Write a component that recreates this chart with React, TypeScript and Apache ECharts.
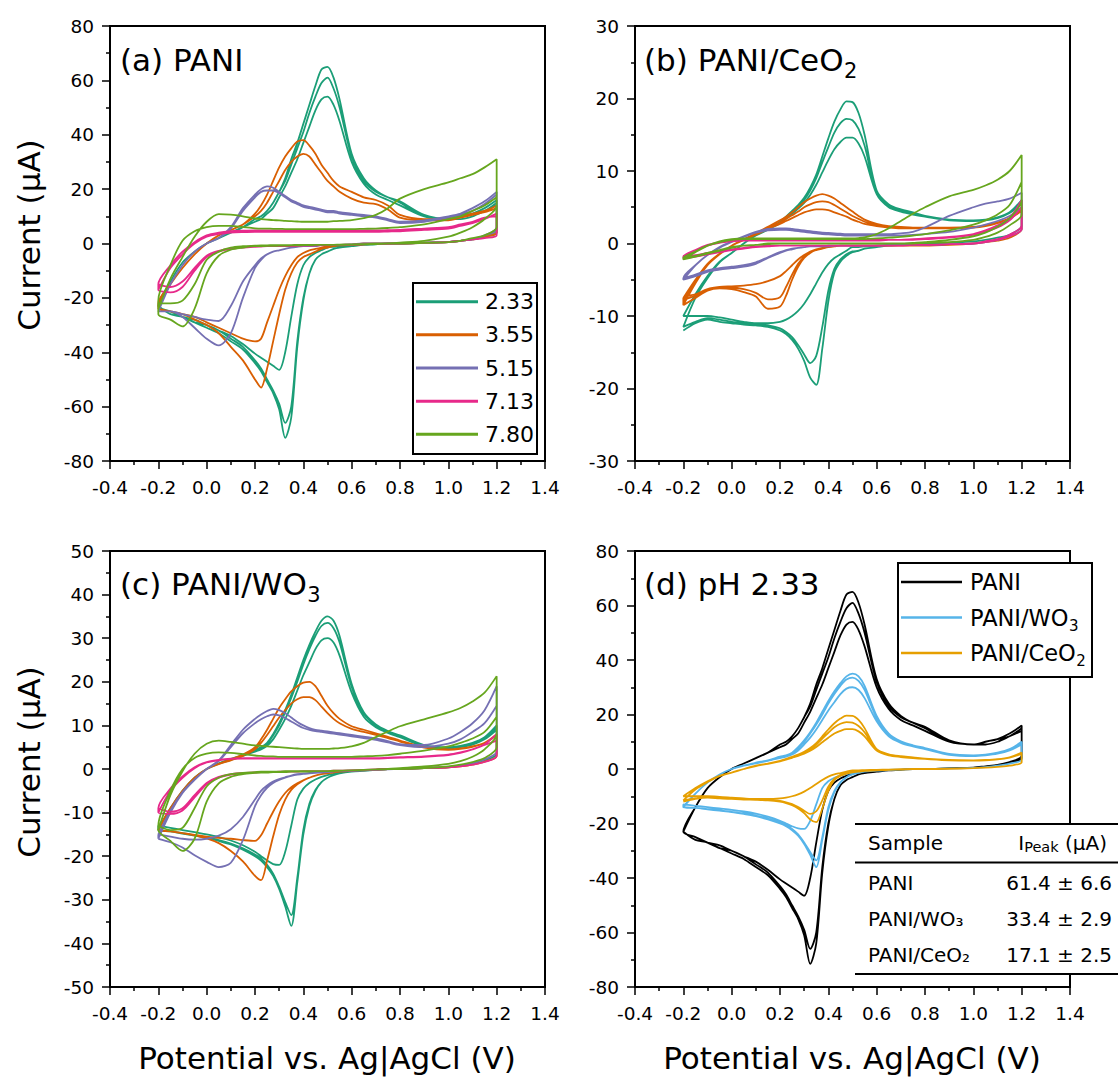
import React, { useEffect, useRef } from "react";
import * as echarts from "echarts";

const FONT = "'DejaVu Sans', Verdana, sans-serif";

// Shared potential grid (V vs Ag|AgCl) for every sweep
const POTENTIAL = [
  -0.2, -0.15, -0.1, -0.05, 0, 0.05, 0.1, 0.15, 0.2,
  0.225, 0.25, 0.275, 0.3, 0.325, 0.35, 0.375, 0.4, 0.425, 0.45, 0.475, 0.5,
  0.525, 0.55, 0.6, 0.65, 0.7, 0.75, 0.8, 0.9, 1.0, 1.05, 1.1, 1.15, 1.2,
];

const PH_LABELS = ["2.33", "3.55", "5.15", "7.13", "7.80"];
const PH_COLORS = ["#1b9e77", "#d95f02", "#7570b3", "#e7298a", "#66a61e"];
const SAMPLE_LABELS = ["PANI", "PANI/WO", "PANI/CeO"];
const SAMPLE_SUBS = ["", "3", "2"];
const SAMPLE_COLORS = ["#000000", "#56b4e9", "#e69f00"];
const TABLE_SAMPLES = ["PANI", "PANI/WO\u2083", "PANI/CeO\u2082"];
const TABLE_PEAKS = ["61.4 \u00b1 6.6", "33.4 \u00b1 2.9", "17.1 \u00b1 2.5"];

const Y_MIN = [-80, -30, -50, -80];
const Y_MAX = [80, 30, 50, 80];
const Y_STEP = [20, 10, 10, 20];

// ---------- (a) PANI : anodic (forward) and cathodic (reverse) currents, µA ----------
const PANI_233_AN = [
  [-23, -14, -7, -3, 0, 2, 4, 6, 8,
    9, 11, 13, 17, 21, 26, 31, 37, 43, 49, 53, 54,
    51, 45, 30, 22, 18, 16, 14, 10, 9, 9, 10, 12, 14],
  [-23, -14, -7, -3, 0, 2, 4, 6, 9,
    10, 12, 15, 19, 23, 29, 35, 41, 48, 54, 59, 61,
    57, 50, 32, 23, 19, 17, 15, 10, 9, 10, 11, 12, 15],
  [-23, -14, -7, -3, 0, 2, 4, 6, 9,
    10, 12, 15, 19, 24, 31, 37, 44, 51, 58, 64, 65,
    61, 53, 33, 24, 19.5, 17, 15.5, 10.5, 9, 10, 11, 13, 16],
];
const PANI_233_CA = [
  [-23, -25, -27, -28, -30, -32, -34, -37, -40.5,
    -42, -43.5, -45, -46.5, -40, -27, -15, -8, -5, -3.5, -2.5, -1.5,
    -1.2, -1, -0.7, -0.5, -0.3, 0, 0, 0.3, 0.5, 1, 1.5, 2.5, 4],
  [-23, -25, -27, -29, -30, -32, -35, -38, -43,
    -46, -50, -54, -59, -66, -60, -36, -20, -11, -6, -4, -3,
    -2, -1.5, -1, -0.5, -0.3, 0, 0, 0.3, 0.5, 1, 1.5, 2.5, 4],
  [-23, -26, -27, -29, -31, -33, -36, -39, -44,
    -47, -51, -55, -61, -71.5, -64, -38, -21, -11, -6, -4, -3,
    -2, -1.5, -1, -0.5, -0.3, 0, 0, 0.3, 0.5, 1, 1.5, 2.5, 5],
];
const PANI_355_AN = [
  [-22, -15, -9, -4, 0, 3, 5, 7, 10,
    12, 15, 19, 23, 27, 30, 32, 33, 32, 29, 26, 23,
    21, 19, 16.5, 15, 14.5, 12.5, 9.5, 8.5, 8.5, 9.5, 10.5, 11.5, 13],
  [-22, -15, -9, -4, 0, 3, 5, 7, 11,
    14, 18, 23, 28, 32, 35, 37.5, 38, 36, 33, 29, 26,
    23, 21, 19, 17, 16, 14, 10.5, 9, 9, 10, 11, 12, 14],
];
const PANI_355_CA = [
  [-24, -25, -26, -27, -29, -31, -33, -35, -36,
    -35, -29, -23, -17, -12, -8, -5, -3.5, -2.5, -2, -1.5, -1,
    -1, -0.5, -0.5, 0, 0, 0, 0, 0.3, 0.5, 1, 1.5, 2.5, 4],
  [-24, -25, -26, -28, -30, -33, -38, -43, -50,
    -53, -46, -36, -26, -17, -11, -7, -5, -4, -3, -2, -1.5,
    -1, -0.7, -0.5, -0.3, 0, 0, 0, 0.3, 0.5, 1, 1.5, 2.5, 5],
];
const PANI_515_AN = [
  [-25, -15, -8, -3, 0, 2, 5.5, 12, 17,
    19, 19.5, 19.5, 18.5, 17, 15.5, 14.5, 13.5, 13, 12.5, 12, 11.5,
    11.5, 11, 10.5, 10, 9.5, 8.5, 7.5, 8, 9.5, 10.5, 12, 14.5, 18],
  [-25, -15, -8, -3, 0, 2, 6, 13, 18,
    20, 21, 20.5, 19, 17.5, 16, 15, 14, 13.5, 13, 12.5, 12,
    12, 11.5, 11, 10.5, 10, 9, 8, 8.5, 10, 11, 13, 15.5, 19],
];
const PANI_515_CA = [
  [-25, -25, -26, -27, -28, -28.5, -23, -14, -8,
    -5.5, -4, -3, -2.5, -2, -1.5, -1.2, -1, -1, -1, -0.5, -0.5,
    -0.5, -0.5, -0.3, 0, 0, 0, 0, 0.3, 0.5, 1, 1.5, 3, 5],
  [-25, -25, -27, -31, -35, -37.5, -33, -20, -9,
    -6, -4, -3, -2.5, -2, -1.5, -1.2, -1, -1, -1, -0.5, -0.5,
    -0.5, -0.5, -0.3, 0, 0, 0, 0, 0.3, 0.5, 1, 1.5, 3, 6],
];
const PANI_713_AN = [
  [-17, -9, -4, 0, 2.5, 3.5, 4, 4.2, 4.3,
    4.3, 4.3, 4.3, 4.3, 4.3, 4.3, 4.3, 4.3, 4.3, 4.3, 4.3, 4.3,
    4.3, 4.3, 4.3, 4.3, 4.3, 4.4, 4.5, 5, 5.5, 6.5, 7.5, 9, 11],
  [-15, -8, -3, 0.5, 3, 4, 4.5, 4.7, 4.8,
    4.8, 4.8, 4.8, 4.8, 4.8, 4.8, 4.8, 4.8, 4.8, 4.8, 4.8, 4.8,
    4.8, 4.8, 4.8, 4.8, 4.8, 4.9, 5, 5.5, 6, 7, 8, 9.5, 10],
];
const PANI_713_CA = [
  [-17, -18, -16, -10, -5, -3, -2, -1.5, -1.2,
    -1.1, -1, -1, -1, -1, -1, -0.9, -0.8, -0.8, -0.7, -0.7, -0.6,
    -0.6, -0.5, -0.4, -0.3, -0.2, -0.1, 0, 0.2, 0.5, 1, 1.5, 2, 3],
  [-15, -16, -14, -9, -4.5, -2.7, -1.8, -1.3, -1.1,
    -1, -1, -0.9, -0.9, -0.9, -0.9, -0.8, -0.8, -0.7, -0.7, -0.6, -0.6,
    -0.5, -0.5, -0.4, -0.3, -0.2, -0.1, 0, 0.2, 0.5, 1, 1.5, 2, 3],
];
const PANI_780_AN = [
  [-24, -13, -5, 2.5, 8, 10.8, 10.6, 10, 9.2,
    9, 8.8, 8.6, 8.5, 8.3, 8.2, 8.1, 8, 8, 8, 8, 8,
    8.2, 8.3, 8.6, 9.3, 10.5, 13, 16.5, 20, 22.5, 24, 25.5, 28, 31],
  [-21, -8, 1, 4.5, 6, 6.5, 6.5, 6, 5.6,
    5.5, 5.5, 5.4, 5.4, 5.3, 5.3, 5.3, 5.3, 5.3, 5.3, 5.3, 5.3,
    5.3, 5.3, 5.3, 5.4, 5.5, 5.7, 6, 7, 9, 10, 12, 14, 17],
];
const PANI_780_CA = [
  [-26, -28, -30.5, -24, -11, -4.5, -2.3, -1.5, -1,
    -1, -0.9, -0.9, -0.8, -0.8, -0.7, -0.7, -0.6, -0.6, -0.5, -0.5, -0.5,
    -0.5, -0.5, -0.4, -0.3, -0.2, 0, 0.3, 1, 2.5, 4, 6, 9, 14],
  [-22, -22, -21, -15, -6, -3, -1.5, -1, -0.8,
    -0.7, -0.7, -0.6, -0.6, -0.6, -0.6, -0.5, -0.5, -0.5, -0.5, -0.5, -0.5,
    -0.5, -0.4, -0.3, -0.2, -0.1, 0, 0, 0.2, 0.5, 1, 2, 3, 6],
];

// ---------- (b) PANI/CeO2 ----------
const CEO2_233_AN = [
  [-10, -7, -4.5, -2.5, -1.3, 0, 1.1, 1.9, 2.8,
    3.4, 4.1, 4.8, 5.6, 6.7, 8.1, 9.8, 11.5, 13, 14, 14.6, 14.6,
    13.8, 12, 6.8, 5, 4.4, 4, 3.7, 3.2, 3.1, 3.2, 3.5, 4.2, 5.5],
  [-10, -7, -4.5, -2.5, -1.3, 0, 1.2, 2, 2.9,
    3.6, 4.3, 5.1, 6, 7.3, 9, 11.2, 13.3, 15.3, 16.6, 17.2, 17,
    15.8, 13.5, 7, 5.2, 4.5, 4.1, 3.7, 3.3, 3.2, 3.3, 3.6, 4.3, 5.8],
  [-11.5, -7.5, -4.8, -2.6, -1.3, 0, 1.2, 2, 3,
    3.7, 4.5, 5.3, 6.3, 7.7, 9.5, 12, 14.5, 16.8, 18.5, 19.6, 19.5,
    18, 15, 7.3, 5.4, 4.7, 4.3, 3.8, 3.3, 3.2, 3.3, 3.6, 4.3, 6],
];
const CEO2_233_CA = [
  [-10, -10, -10, -10.2, -10.5, -10.8, -11, -11, -10.8,
    -10.5, -10, -9.3, -8.3, -7, -5.5, -4, -2.8, -2, -1.5, -1, -0.5,
    -0.5, -0.4, -0.3, -0.2, -0.1, 0, 0, 0.1, 0.3, 0.5, 0.8, 1.2, 2.5],
  [-11.5, -10.8, -10.3, -10.5, -10.8, -11, -11.1, -11.3, -11.7,
    -12.2, -12.9, -14, -15.3, -16.5, -15.5, -11.5, -6.5, -3.5, -2.2, -1.5, -1.1,
    -1, -0.7, -0.5, -0.3, -0.2, 0, 0, 0.1, 0.3, 0.5, 0.8, 1.2, 2.5],
  [-12, -11, -10.5, -10.8, -11, -11.2, -11.3, -11.5, -12,
    -12.5, -13.3, -14.5, -16.2, -18.5, -19.5, -14.5, -8, -4, -2.5, -1.7, -1.2,
    -1, -0.7, -0.5, -0.3, -0.2, 0, 0, 0.1, 0.3, 0.5, 0.8, 1.2, 2.5],
];
const CEO2_355_AN = [
  [-7.5, -5, -2.8, -1.4, -0.3, 0.5, 1.2, 2, 2.7,
    3.1, 3.5, 3.9, 4.3, 4.55, 4.7, 4.7, 4.6, 4.3, 4, 3.7, 3.3,
    3, 2.7, 2.4, 2.2, 2.1, 2.1, 2.1, 2.1, 2.2, 2.4, 2.8, 3.4, 4.5],
  [-8, -5.2, -2.9, -1.4, -0.3, 0.55, 1.3, 2.1, 2.9,
    3.4, 3.9, 4.4, 5, 5.4, 5.7, 5.8, 5.7, 5.3, 4.8, 4.3, 3.8,
    3.4, 3, 2.5, 2.3, 2.2, 2.1, 2.1, 2.1, 2.2, 2.4, 2.8, 3.4, 4.7],
  [-8.5, -5.5, -3, -1.5, -0.3, 0.6, 1.4, 2.3, 3.2,
    3.7, 4.3, 5, 5.7, 6.2, 6.6, 6.8, 6.6, 6.2, 5.6, 5, 4.4,
    3.8, 3.3, 2.7, 2.4, 2.3, 2.2, 2.2, 2.2, 2.3, 2.5, 2.9, 3.5, 5],
];
const CEO2_355_CA = [
  [-7.5, -7, -6.3, -6, -5.9, -5.8, -5.6, -5.2, -4.5,
    -3.8, -3, -2.2, -1.6, -1.1, -0.8, -0.6, -0.5, -0.4, -0.3, -0.3, -0.3,
    -0.3, -0.3, -0.3, -0.3, -0.3, -0.3, -0.3, -0.2, 0, 0.2, 0.4, 0.8, 2],
  [-8, -7.2, -6.4, -6.1, -6.1, -6.3, -6.8, -7.7, -7.4,
    -6, -4.3, -2.8, -1.8, -1.2, -0.9, -0.7, -0.5, -0.4, -0.3, -0.3, -0.3,
    -0.3, -0.3, -0.3, -0.3, -0.3, -0.3, -0.3, -0.2, 0, 0.2, 0.4, 0.8, 2],
  [-8.5, -7.5, -6.5, -6.2, -6.3, -6.7, -7.3, -9, -8.7,
    -7.2, -5, -3.2, -2, -1.3, -0.9, -0.7, -0.5, -0.4, -0.3, -0.3, -0.3,
    -0.3, -0.3, -0.3, -0.3, -0.3, -0.3, -0.3, -0.2, 0, 0.2, 0.4, 0.8, 2],
];
const CEO2_515_AN = [
  [-5, -3, -1.6, -0.5, 0.3, 1, 1.6, 2, 2.1,
    2.1, 2, 1.9, 1.8, 1.7, 1.6, 1.5, 1.45, 1.4, 1.35, 1.3, 1.3,
    1.3, 1.3, 1.3, 1.3, 1.4, 1.6, 2.2, 3.8, 5, 5.5, 5.8, 6.2, 7],
  [-4.8, -3, -1.6, -0.6, 0.2, 0.9, 1.5, 1.8, 1.9,
    1.9, 1.8, 1.7, 1.6, 1.5, 1.4, 1.3, 1.25, 1.2, 1.15, 1.1, 1.1,
    1.1, 1.1, 1.1, 1.1, 1.1, 1.2, 1.3, 1.6, 2.2, 2.6, 3.1, 3.8, 5],
];
const CEO2_515_CA = [
  [-5, -4.5, -3.9, -3.6, -3.4, -3.2, -2.8, -2, -1.3,
    -1, -0.8, -0.6, -0.5, -0.4, -0.4, -0.4, -0.4, -0.3, -0.3, -0.3, -0.3,
    -0.3, -0.3, -0.3, -0.2, -0.2, -0.2, -0.2, -0.1, 0, 0.2, 0.5, 1, 2],
  [-4.8, -4.3, -3.7, -3.4, -3.2, -3, -2.6, -1.9, -1.2,
    -0.9, -0.7, -0.6, -0.5, -0.4, -0.4, -0.4, -0.3, -0.3, -0.3, -0.3, -0.3,
    -0.3, -0.3, -0.3, -0.2, -0.2, -0.2, -0.2, -0.1, 0, 0.2, 0.5, 1, 2],
];
const CEO2_713_AN = [
  [-2, -1, -0.3, 0.1, 0.3, 0.4, 0.4, 0.4, 0.4,
    0.4, 0.4, 0.4, 0.4, 0.4, 0.4, 0.4, 0.4, 0.4, 0.4, 0.4, 0.4,
    0.4, 0.4, 0.4, 0.5, 0.5, 0.5, 0.6, 0.8, 1.2, 1.6, 2.2, 3.2, 5],
  [-1.8, -0.9, -0.2, 0.2, 0.4, 0.5, 0.5, 0.5, 0.5,
    0.5, 0.5, 0.5, 0.5, 0.5, 0.5, 0.5, 0.5, 0.5, 0.5, 0.5, 0.5,
    0.5, 0.5, 0.5, 0.5, 0.5, 0.6, 0.7, 0.9, 1.3, 1.8, 2.5, 3.5, 6],
];
const CEO2_713_CA = [
  [-2, -1.8, -1.5, -1.2, -0.9, -0.7, -0.5, -0.4, -0.3,
    -0.3, -0.3, -0.3, -0.3, -0.3, -0.3, -0.3, -0.3, -0.3, -0.3, -0.3, -0.3,
    -0.3, -0.3, -0.3, -0.3, -0.3, -0.2, -0.2, -0.1, 0, 0.2, 0.5, 1, 2],
  [-1.8, -1.6, -1.3, -1.1, -0.8, -0.6, -0.4, -0.3, -0.3,
    -0.3, -0.3, -0.3, -0.3, -0.3, -0.3, -0.3, -0.3, -0.3, -0.3, -0.3, -0.3,
    -0.3, -0.3, -0.3, -0.3, -0.3, -0.2, -0.2, -0.1, 0, 0.3, 0.6, 1.2, 2.5],
];
const CEO2_780_AN = [
  [-2.2, -1.2, -0.3, 0.3, 0.6, 0.7, 0.7, 0.7, 0.7,
    0.7, 0.7, 0.7, 0.7, 0.7, 0.7, 0.7, 0.7, 0.7, 0.7, 0.7, 0.7,
    0.75, 0.85, 1.3, 2.1, 3.1, 4.1, 5, 6.5, 7.4, 8, 8.8, 10, 12.2],
  [-2, -1.1, -0.3, 0.2, 0.5, 0.6, 0.6, 0.6, 0.6,
    0.6, 0.6, 0.6, 0.6, 0.6, 0.6, 0.6, 0.6, 0.6, 0.6, 0.6, 0.6,
    0.6, 0.6, 0.7, 0.8, 0.9, 1.1, 1.3, 1.8, 2.6, 3.2, 4, 5.3, 8.5],
];
const CEO2_780_CA = [
  [-2.2, -1.8, -1.4, -1, -0.6, -0.3, -0.2, 0, 0,
    0, 0, 0, 0, 0, 0, 0, 0, 0, 0, 0, 0,
    0, 0, 0, 0, 0, 0.1, 0.2, 0.5, 1, 1.5, 2.3, 3.5, 6],
  [-2, -1.7, -1.3, -0.9, -0.5, -0.3, -0.2, -0.1, 0,
    0, 0, 0, 0, 0, 0, 0, 0, 0, 0, 0, 0,
    0, 0, 0, 0, 0, 0, 0.1, 0.2, 0.5, 0.9, 1.5, 2.5, 4],
];

// ---------- (c) PANI/WO3 ----------
const WO3_233_AN = [
  [-14, -9, -5, -2, 0, 1.2, 2.1, 3, 4,
    4.5, 5.3, 6.8, 9, 11.5, 14.5, 18, 21.5, 24.5, 27.5, 29.5, 30,
    29, 26, 17.5, 12, 9.6, 8.3, 7.3, 5.2, 4.7, 5, 5.6, 6.8, 9],
  [-14, -9, -5, -2, 0, 1.3, 2.3, 3.2, 4.4,
    4.9, 5.8, 7.7, 10, 13, 16.3, 20, 24, 27.5, 30.5, 32.8, 33.5,
    32.3, 29, 18.8, 12.7, 10, 8.6, 7.6, 5.4, 4.9, 5.2, 5.9, 7.1, 9.5],
  [-14, -9, -5, -2, 0, 1.3, 2.3, 3.2, 4.5,
    5, 6, 8, 10.5, 13.5, 17, 21, 25, 28.5, 31.5, 34, 35,
    34, 30.5, 19.5, 13, 10.2, 8.7, 7.7, 5.5, 5, 5.3, 6, 7.3, 10],
];
const WO3_233_CA = [
  [-13, -13.5, -14, -14.5, -15, -15.6, -16.4, -17.5, -19,
    -20, -21, -21.8, -22, -19, -13, -7, -4.5, -3.2, -2.4, -1.8, -1.4,
    -1.1, -0.8, -0.5, -0.3, -0.2, 0, 0, 0.2, 0.4, 0.7, 1.2, 2, 3.5],
  [-14, -14.3, -14.7, -15.2, -15.7, -16.3, -17.1, -18.2, -19.6,
    -20.5, -22, -24, -27, -30.5, -33.5, -25, -14, -8, -4.8, -3, -2,
    -1.4, -1, -0.6, -0.4, -0.2, 0, 0, 0.2, 0.4, 0.7, 1.2, 2, 3.5],
  [-14, -14.3, -14.8, -15.3, -15.8, -16.5, -17.3, -18.5, -20,
    -21, -22.5, -24.5, -27.5, -31.5, -36, -26, -15, -8.5, -5, -3, -2,
    -1.4, -1, -0.6, -0.4, -0.2, 0, 0, 0.2, 0.4, 0.7, 1.2, 2, 3.5],
];
const WO3_355_AN = [
  [-14, -9, -5, -2, 0, 1.1, 2, 3, 4.5,
    6, 7.8, 9.8, 11.8, 13.5, 15, 16, 16.5, 16.5, 15.8, 14.3, 12.8,
    11.5, 10.5, 9.2, 8.5, 7.8, 7.1, 6.3, 4.9, 4.4, 4.6, 5.1, 5.9, 7.8],
  [-14, -9, -5, -2, 0, 1.2, 2.2, 3.3, 5,
    6.8, 9, 11.5, 14, 16, 17.8, 19, 19.8, 20, 19, 16.8, 14.5,
    12.8, 11.5, 9.8, 9, 8.2, 7.4, 6.5, 5, 4.5, 4.7, 5.2, 6, 8],
];
const WO3_355_CA = [
  [-14, -14.3, -14.7, -15.1, -15.5, -15.8, -16, -16.3, -16.5,
    -15.2, -12.5, -9.8, -7.4, -5.5, -4.2, -3.3, -2.6, -2, -1.5, -1.2, -1,
    -0.8, -0.6, -0.4, -0.3, -0.2, 0, 0, 0.2, 0.4, 0.6, 1, 1.7, 3],
  [-14, -14.3, -14.7, -15.2, -15.9, -17, -18.8, -21.2, -24.5,
    -25.5, -21, -15.5, -10.5, -7, -4.8, -3.5, -2.6, -2, -1.5, -1.2, -1,
    -0.8, -0.6, -0.4, -0.3, -0.2, 0, 0, 0.2, 0.4, 0.6, 1, 1.7, 3],
];
const WO3_515_AN = [
  [-15, -9.5, -5.3, -2.4, 0, 1.8, 5, 8.2, 10.5,
    11.4, 12.1, 12.5, 12.3, 11.7, 10.9, 10.1, 9.4, 9, 8.7, 8.5, 8.3,
    8.1, 7.9, 7.5, 7.1, 6.7, 6.1, 5.5, 5, 5.8, 6.8, 8.5, 10.5, 14.5],
  [-16, -10, -5.5, -2.5, 0, 2, 5.5, 9, 11.5,
    12.5, 13.3, 13.8, 13.5, 12.8, 11.8, 10.8, 10, 9.4, 9, 8.8, 8.6,
    8.4, 8.2, 7.8, 7.4, 7, 6.4, 5.7, 5.5, 7, 8.5, 10.5, 13.5, 19],
];
const WO3_515_CA = [
  [-15, -15.5, -16, -16.2, -16, -15.3, -13.8, -11, -7,
    -5, -3.8, -2.9, -2.3, -1.9, -1.5, -1.2, -1, -0.9, -0.8, -0.7, -0.6,
    -0.5, -0.5, -0.4, -0.3, -0.2, -0.1, 0, 0.2, 0.5, 0.8, 1.3, 2.2, 4],
  [-16, -16.8, -18, -19.8, -21.3, -22.5, -21.5, -16.3, -8.5,
    -6, -4.3, -3.2, -2.5, -2, -1.6, -1.3, -1.1, -1, -0.9, -0.8, -0.7,
    -0.6, -0.5, -0.4, -0.3, -0.2, -0.1, 0, 0.2, 0.5, 0.8, 1.3, 2.2, 4],
];
const WO3_713_AN = [
  [-10, -5, -2, 0.2, 1.5, 2, 2.3, 2.4, 2.4,
    2.4, 2.4, 2.4, 2.4, 2.4, 2.4, 2.4, 2.4, 2.4, 2.4, 2.4, 2.4,
    2.4, 2.4, 2.4, 2.4, 2.4, 2.5, 2.6, 2.8, 3.2, 3.7, 4.5, 5.7, 8],
  [-9, -4.5, -1.7, 0.4, 1.6, 2.1, 2.4, 2.5, 2.5,
    2.5, 2.5, 2.5, 2.5, 2.5, 2.5, 2.5, 2.5, 2.5, 2.5, 2.5, 2.5,
    2.5, 2.5, 2.5, 2.5, 2.5, 2.6, 2.7, 2.9, 3.3, 3.8, 4.5, 5.5, 6.5],
];
const WO3_713_CA = [
  [-10, -10.3, -9.5, -6.5, -3.5, -2, -1.3, -1, -0.8,
    -0.7, -0.7, -0.7, -0.6, -0.6, -0.6, -0.6, -0.5, -0.5, -0.5, -0.5, -0.5,
    -0.4, -0.4, -0.3, -0.2, -0.1, 0, 0, 0.2, 0.4, 0.6, 1, 1.6, 3],
  [-9, -9.8, -9, -6, -3.2, -1.8, -1.2, -0.9, -0.8,
    -0.7, -0.7, -0.7, -0.6, -0.6, -0.6, -0.6, -0.5, -0.5, -0.5, -0.5, -0.5,
    -0.4, -0.4, -0.3, -0.2, -0.1, 0, 0, 0.2, 0.4, 0.6, 1, 1.6, 3],
];
const WO3_780_AN = [
  [-14, -6, -0.5, 3.5, 5.8, 6.5, 6.2, 5.8, 5.4,
    5.3, 5.2, 5.1, 5, 4.9, 4.8, 4.7, 4.6, 4.6, 4.6, 4.6, 4.6,
    4.7, 4.8, 5.2, 6, 7.3, 8.6, 9.8, 11.4, 13, 14, 15.5, 17.5, 21.3],
  [-13, -5, 0, 2.5, 3.5, 3.8, 3.7, 3.4, 3.1,
    3, 2.9, 2.9, 2.8, 2.8, 2.8, 2.8, 2.8, 2.8, 2.8, 2.8, 2.8,
    2.8, 2.8, 2.8, 2.9, 3, 3.2, 3.5, 4.2, 5.2, 6, 7, 8.5, 12],
];
const WO3_780_CA = [
  [-14, -16.5, -18.8, -16, -7.5, -3.3, -1.8, -1.2, -0.9,
    -0.8, -0.8, -0.7, -0.7, -0.7, -0.6, -0.6, -0.6, -0.6, -0.5, -0.5, -0.5,
    -0.5, -0.4, -0.3, -0.2, -0.1, 0, 0.2, 0.6, 1.2, 1.8, 2.8, 4.5, 8],
  [-13, -14, -13.5, -9, -4, -2, -1.2, -0.9, -0.7,
    -0.6, -0.6, -0.6, -0.6, -0.5, -0.5, -0.5, -0.5, -0.5, -0.5, -0.5, -0.5,
    -0.4, -0.4, -0.3, -0.2, -0.1, 0, 0, 0.2, 0.6, 1, 1.6, 2.5, 5],
];

// ---------- helpers ----------
function cvPoints(an: number[][], ca: number[][]) {
  const pts: number[][] = [];
  an.forEach((cyc, c) => {
    cyc.forEach((v, i) => pts.push([POTENTIAL[i], v]));
    const back = ca[c];
    for (let i = back.length - 1; i >= 0; i--) pts.push([POTENTIAL[i], back[i]]);
  });
  return pts;
}

function measure(text: string, size: number) {
  const ctx = document.createElement("canvas").getContext("2d");
  if (!ctx) return text.length * size * 0.6;
  ctx.font = `${size}px 'DejaVu Sans'`;
  return ctx.measureText(text).width;
}

function txt(x: number, y: number, text: string, size: number, extra: any = {}) {
  return {
    type: "text",
    x,
    y,
    z: 100,
    silent: true,
    style: {
      text,
      fontSize: size,
      fontFamily: FONT,
      fill: "#000",
      align: "left",
      verticalAlign: "middle",
      ...extra,
    },
  };
}

function withSub(x: number, y: number, main: string, sub: string, size: number, subSize: number, dy: number) {
  const out: any[] = [txt(x, y, main, size)];
  if (sub) out.push(txt(x + measure(main, size) + 0.5, y + dy, sub, subSize));
  return out;
}

function buildOption() {
  const grids = [
    { left: 110, top: 26, width: 435, height: 435 },
    { left: 635, top: 26, width: 435, height: 435 },
    { left: 110, top: 551, width: 435, height: 436 },
    { left: 635, top: 551, width: 435, height: 436 },
  ];

  const panels = [
    {
      sets: [
        [PANI_233_AN, PANI_233_CA],
        [PANI_355_AN, PANI_355_CA],
        [PANI_515_AN, PANI_515_CA],
        [PANI_713_AN, PANI_713_CA],
        [PANI_780_AN, PANI_780_CA],
      ],
      colors: PH_COLORS,
      names: PH_LABELS,
    },
    {
      sets: [
        [CEO2_233_AN, CEO2_233_CA],
        [CEO2_355_AN, CEO2_355_CA],
        [CEO2_515_AN, CEO2_515_CA],
        [CEO2_713_AN, CEO2_713_CA],
        [CEO2_780_AN, CEO2_780_CA],
      ],
      colors: PH_COLORS,
      names: PH_LABELS,
    },
    {
      sets: [
        [WO3_233_AN, WO3_233_CA],
        [WO3_355_AN, WO3_355_CA],
        [WO3_515_AN, WO3_515_CA],
        [WO3_713_AN, WO3_713_CA],
        [WO3_780_AN, WO3_780_CA],
      ],
      colors: PH_COLORS,
      names: PH_LABELS,
    },
    {
      sets: [
        [PANI_233_AN, PANI_233_CA],
        [WO3_233_AN, WO3_233_CA],
        [CEO2_233_AN, CEO2_233_CA],
      ],
      colors: SAMPLE_COLORS,
      names: ["PANI", "PANI/WO3", "PANI/CeO2"],
    },
  ];

  const series: any[] = [];
  panels.forEach((p, gi) => {
    p.sets.forEach((s, si) => {
      series.push({
        type: "line",
        name: `${gi}-${p.names[si]}`,
        xAxisIndex: gi,
        yAxisIndex: gi,
        data: cvPoints(s[0] as number[][], s[1] as number[][]),
        showSymbol: false,
        symbol: "none",
        smooth: 0.3,
        silent: true,
        lineStyle: { color: p.colors[si], width: 1.8 },
        itemStyle: { color: p.colors[si] },
        z: 2 + si,
      });
    });
  });

  const tickStyle = { color: "#000", width: 1.5 };
  const xAxis = grids.map((_, i) => ({
    type: "value",
    gridIndex: i,
    min: -0.4,
    max: 1.4,
    interval: 0.2,
    axisLine: { show: true, onZero: false, lineStyle: { color: "#000", width: 2 } },
    axisTick: { show: true, length: 8, lineStyle: tickStyle },
    minorTick: { show: true, splitNumber: 2, length: 4, lineStyle: tickStyle },
    splitLine: { show: false },
    minorSplitLine: { show: false },
    axisLabel: {
      show: true,
      color: "#000",
      fontSize: 18.5,
      fontFamily: FONT,
      margin: 17,
      showMinLabel: true,
      showMaxLabel: true,
      formatter: (v: number) => (Math.abs(v) < 1e-9 ? 0 : v).toFixed(1),
    },
  }));
  const yAxis = grids.map((_, i) => ({
    type: "value",
    gridIndex: i,
    min: Y_MIN[i],
    max: Y_MAX[i],
    interval: Y_STEP[i],
    axisLine: { show: true, onZero: false, lineStyle: { color: "#000", width: 2 } },
    axisTick: { show: true, length: 8, lineStyle: tickStyle },
    minorTick: { show: true, splitNumber: 2, length: 4, lineStyle: tickStyle },
    splitLine: { show: false },
    minorSplitLine: { show: false },
    axisLabel: {
      show: true,
      color: "#000",
      fontSize: 18.5,
      fontFamily: FONT,
      margin: 16,
      showMinLabel: true,
      showMaxLabel: true,
    },
  }));

  const g: any[] = [];
  // Panel titles
  g.push(txt(120, 60, "(a) PANI", 31));
  g.push(...withSub(644, 60, "(b) PANI/CeO", "2", 31, 21, 11));
  g.push(...withSub(120, 584, "(c) PANI/WO", "3", 31, 21, 11));
  g.push(txt(644, 584, "(d) pH 2.33", 31));

  // Axis titles
  [235, 762].forEach((cy) =>
    g.push({
      type: "text",
      x: 29,
      y: cy,
      rotation: Math.PI / 2,
      z: 100,
      silent: true,
      style: { text: "Current (\u03bcA)", fontSize: 31, fontFamily: FONT, fill: "#000", align: "center", verticalAlign: "middle" },
    })
  );
  [327, 852].forEach((cx) =>
    g.push(txt(cx, 1058, "Potential vs. Ag|AgCl (V)", 31, { align: "center" }))
  );

  // Legend (a)
  g.push({
    type: "rect",
    z: 100,
    silent: true,
    shape: { x: 413, y: 283, width: 124, height: 171 },
    style: { fill: "#fff", stroke: "#000", lineWidth: 2 },
  });
  PH_LABELS.forEach((lab, i) => {
    const y = 301.7 + i * 33.15;
    g.push({
      type: "line",
      z: 101,
      silent: true,
      shape: { x1: 416, y1: y, x2: 478, y2: y },
      style: { stroke: PH_COLORS[i], lineWidth: 3 },
    });
    g.push(txt(485, y, lab, 22));
  });

  // Legend (d)
  g.push({
    type: "rect",
    z: 100,
    silent: true,
    shape: { x: 898, y: 563, width: 194, height: 114 },
    style: { fill: "#fff", stroke: "#000", lineWidth: 2 },
  });
  SAMPLE_LABELS.forEach((lab, i) => {
    const y = 582 + i * 35.5;
    g.push({
      type: "line",
      z: 101,
      silent: true,
      shape: { x1: 901, y1: y, x2: 962, y2: y },
      style: { stroke: SAMPLE_COLORS[i], lineWidth: 2.5 },
    });
    g.push(...withSub(970, y, lab, SAMPLE_SUBS[i], 22.5, 15, 8));
  });

  // Table (d)
  g.push({
    type: "rect",
    z: 100,
    silent: true,
    shape: { x: 855, y: 824, width: 263, height: 150 },
    style: { fill: "#fff", stroke: "none" },
  });
  [824, 862.5, 974].forEach((y) =>
    g.push({
      type: "line",
      z: 101,
      silent: true,
      shape: { x1: 855, y1: y, x2: 1118, y2: y },
      style: { stroke: "#000", lineWidth: 2 },
    })
  );
  g.push(txt(868, 843, "Sample", 20));
  {
    const wI = measure("I", 20);
    const wP = measure("Peak", 14.5);
    const wR = measure(" (\u03bcA)", 20);
    const x0 = 1107 - (wI + wP + wR);
    g.push(txt(x0, 843, "I", 20));
    g.push(txt(x0 + wI, 847, "Peak", 14.5));
    g.push(txt(x0 + wI + wP, 843, " (\u03bcA)", 20));
  }
  TABLE_SAMPLES.forEach((s, i) => {
    const y = 883 + i * 36;
    g.push(txt(868, y, s, 20));
    g.push(txt(1112, y, TABLE_PEAKS[i], 20, { align: "right" }));
  });

  return {
    animation: false,
    backgroundColor: "#ffffff",
    textStyle: { fontFamily: FONT },
    grid: grids.map((gr) => ({
      ...gr,
      show: true,
      borderColor: "#000",
      borderWidth: 2,
      backgroundColor: "transparent",
      containLabel: false,
    })),
    xAxis,
    yAxis,
    series,
    graphic: { elements: g },
  };
}

export default function App() {
  const ref = useRef<HTMLDivElement>(null);
  useEffect(() => {
    if (!ref.current) return;
    const chart = echarts.init(ref.current, null, { renderer: "svg" });
    chart.setOption(buildOption() as any);
    return () => chart.dispose();
  }, []);
  return (
    <div
      ref={ref}
      style={{ position: "fixed", left: 0, top: 0, width: 1118, height: 1077, background: "#fff" }}
    />
  );
}
